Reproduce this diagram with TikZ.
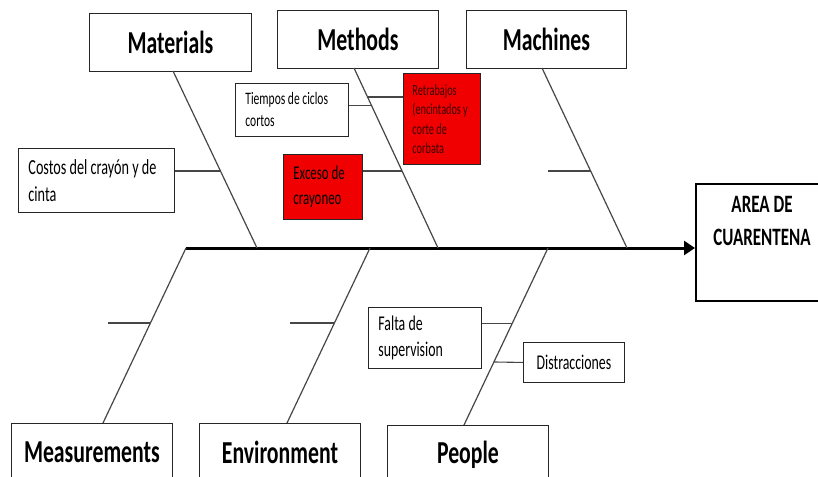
\documentclass[tikz,border=0pt]{standalone}
\usepackage{fontspec}
\setmainfont{Carlito}[FakeStretch=0.66]
\newfontfamily\headfont{Carlito}[FakeStretch=0.68]
\usetikzlibrary{calc,arrows.meta}
\definecolor{boneclr}{RGB}{70,70,70}
\definecolor{boxred}{RGB}{240,0,0}
\definecolor{txtred}{RGB}{60,0,0}
\tikzset{
  catbox/.style={draw=black!85, line width=0.9pt, fill=white, anchor=north west, inner sep=0pt,
    font=\headfont\bfseries\fontsize{32}{38}\selectfont, minimum width=#1},
  causebox/.style={draw=black!85, line width=0.9pt, fill=white, anchor=north west, inner xsep=10pt, inner ysep=0pt, align=flush left},
  redbox/.style={causebox, fill=boxred},
  bone/.style={draw=boneclr, line width=1.2pt},
  tick/.style={draw=boneclr, line width=1.1pt},
}
\begin{document}
\begin{tikzpicture}[x=1pt,y=-1pt]
\useasboundingbox (0,0) rectangle (818,476);
\clip (0,0) rectangle (818,476);

% category boxes
\node[catbox=162pt, minimum height=58pt] (materials) at (89,13) {Materials};
\node[catbox=161pt, minimum height=58pt] (methods) at (277,10) {Methods};
\node[catbox=160pt, minimum height=58pt] (machines) at (466,10) {Machines};
\node[catbox=161pt, minimum height=58pt] (measure) at (11,423) {Measurements};
\node[catbox=161pt, minimum height=58pt] (environ) at (199,423) {Environment};
\node[catbox=161pt, minimum height=58pt] (people) at (387,425) {People};

% effect box
\node[draw=black, line width=1.6pt, fill=white, anchor=north west, minimum width=135pt, minimum height=117pt, inner sep=0pt] (area) at (695,183) {};
\node[font=\headfont\bfseries\fontsize{25}{33}\selectfont, align=center, anchor=north] (areatxt) at (762,193) {AREA DE\\CUARENTENA};

% spine
\coordinate (spL) at (186,248);
\draw[line width=3pt, -{Triangle[length=11pt,width=14pt]}] (spL) -- (spL -| area.west);

% bones
\coordinate (matT) at (173,71);  \coordinate (matB) at (257,248);
\coordinate (metT) at (354,68);  \coordinate (metB) at (438,248);
\coordinate (macT) at (542,68);  \coordinate (macB) at (627,248);
\coordinate (meaT) at (186,248); \coordinate (meaB) at (103,423);
\coordinate (envT) at (370,248); \coordinate (envB) at (287,423);
\coordinate (peoT) at (548,248); \coordinate (peoB) at (464,425);
\draw[bone] (matT) -- (matB);
\draw[bone] (metT) -- (metB);
\draw[bone] (macT) -- (macB);
\draw[bone] (meaT) -- (meaB);
\draw[bone] (envT) -- (envB);
\draw[bone] (peoT) -- (peoB);

% cause boxes
\node[causebox, text width=136pt, minimum height=64pt, font=\fontsize{21.5}{27}\selectfont] (costos) at (18,148) {Costos del crayón y de\\cinta};
\node[causebox, text width=93pt, minimum height=53pt, font=\fontsize{17.5}{22}\selectfont] (tiempos) at (235,83) {Tiempos de ciclos\\cortos};
\node[redbox, inner xsep=9pt, text width=59pt, minimum height=91pt, font=\fontsize{15.5}{19.5}\selectfont, text=txtred] (retra) at (403,73) {Retrabajos\\(encintados y\\corte de\\corbata};
\node[redbox, text width=59pt, minimum height=65pt, font=\fontsize{19.5}{25}\selectfont] (exceso) at (283,154) {Exceso de\\crayoneo};
\node[causebox, text width=93pt, minimum height=61pt, font=\fontsize{21}{26}\selectfont] (falta) at (368,307) {Falta de\\supervision};
\node[causebox, minimum width=101pt, minimum height=40pt, inner xsep=0pt, align=center, font=\fontsize{21}{26}\selectfont] (distr) at (523,342) {Distracciones};

% ticks to boxes
\coordinate (pCost) at ($(matT)!0.565!(matB)$);
\draw[tick] (pCost) -- (pCost -| costos.east);
\coordinate (pTiem) at ($(metT)!0.206!(metB)$);
\draw[tick] (pTiem) -- (pTiem -| tiempos.east);
\coordinate (pRetr) at ($(metT)!0.161!(metB)$);
\draw[tick] (pRetr) -- (pRetr -| retra.west);
\coordinate (pExce) at ($(metT)!0.572!(metB)$);
\draw[tick] (pExce) -- (pExce -| exceso.east);
\coordinate (pFalt) at ($(peoT)!0.424!(peoB)$);
\draw[tick] (pFalt) -- (pFalt -| falta.east);
\coordinate (pDist) at ($(peoT)!0.644!(peoB)$);
\draw[tick] (pDist) -- (distr.west);

% empty ticks
\coordinate (pMac) at ($(macT)!0.572!(macB)$);
\coordinate (eMac) at ($(pMac)+(-43,0)$);
\draw[tick] (pMac) -- (eMac);
\coordinate (pMea) at ($(meaT)!0.4286!(meaB)$);
\coordinate (eMea) at ($(pMea)+(-42,0)$);
\draw[tick] (pMea) -- (eMea);
\coordinate (pEnv) at ($(envT)!0.4286!(envB)$);
\coordinate (eEnv) at ($(pEnv)+(-44,0)$);
\draw[tick] (pEnv) -- (eEnv);
\end{tikzpicture}
\end{document}
